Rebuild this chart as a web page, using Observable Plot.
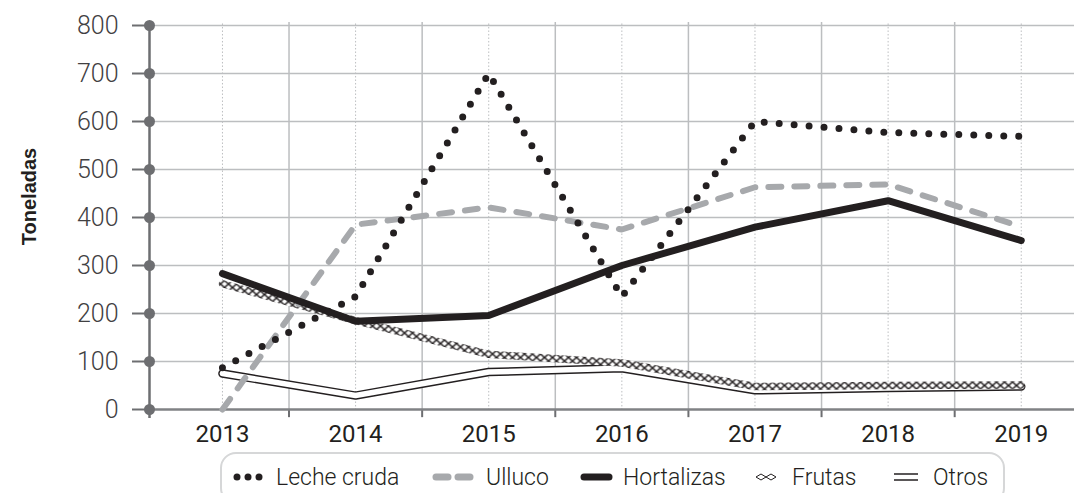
<!DOCTYPE html>
<html>
<head>
<meta charset="utf-8">
<script src="https://cdn.jsdelivr.net/npm/d3@7"></script>
<script src="https://cdn.jsdelivr.net/npm/@observablehq/plot@0.6"></script>
<style>
  html, body { margin: 0; padding: 0; background: #fff; }
  #wrap { position: relative; width: 1074px; height: 493px; overflow: hidden; }
  .lg { position: absolute; top: 452px; left: 220px; width: 785px; height: 52px;
        border: 2px solid #d6d7d8; border-radius: 16px; box-sizing: border-box; }
  .item { position: absolute; top: 461px; height: 32px; display: flex; align-items: center;
          font-family: Roboto, "DejaVu Sans Condensed", sans-serif; font-weight: 300;
          font-size: 23px; color: #231f20; white-space: nowrap; }
  .item svg { display: block; }
</style>
</head>
<body>
<div id="wrap"></div>
<script>
// ---- data ----
const years = [2013, 2014, 2015, 2016, 2017, 2018, 2019];
const yTicks = [0, 100, 200, 300, 400, 500, 600, 700, 800];
const seriesNames = ["Leche cruda", "Ulluco", "Hortalizas", "Frutas", "Otros"];
const lecheCruda = [87, 235, 700, 235, 600, 577, 569];
const ulluco     = [0, 385, 421, 375, 463, 469, 381];
const hortalizas = [283, 184, 196, 300, 380, 435, 352];
const frutas     = [262, 185, 115, 97, 48, 50, 51];
const otros      = [75, 29, 78, 86, 40, 45, 48];
const yLabel = "Toneladas";

// ---- helpers ----
const rows = vals => years.map((yr, i) => ({year: yr, value: vals[i]}));
const x0 = 2012.452;
const xMax = 2019.4;
const pxPerYear = (1074 - 149) / (xMax - x0);
const midYears = years.slice(0, -1).map(y => y + 0.5);
const numFont = "Roboto, 'DejaVu Sans Condensed', sans-serif";

const chart = Plot.plot({
  width: 1074,
  height: 452,
  marginLeft: 149,
  marginRight: 0,
  marginTop: 25,
  marginBottom: 43,
  x: {type: "linear", domain: [x0, xMax], axis: null},
  y: {type: "linear", domain: [0, 800], axis: null},
  style: {overflow: "visible", background: "white"},
  marks: [
    // grid
    Plot.ruleY(yTicks.slice(1), {x1: x0, x2: xMax, stroke: "#bcbec0", strokeWidth: 1.5}),
    Plot.ruleX(years, {y1: -2, y2: 806, stroke: "#bcbec0", strokeWidth: 1, strokeDasharray: "1.5,2"}),
    Plot.ruleX(midYears, {y1: 0, y2: 806, stroke: "#bcbec0", strokeWidth: 1.5}),
    Plot.ruleX(midYears, {y1: -17, y2: 0, stroke: "#6d6e71", strokeWidth: 2}),
    Plot.ruleY([0], {x1: x0, x2: xMax, stroke: "#808285", strokeWidth: 2.5}),
    // series
    Plot.line(rows(otros), {x: "year", y: "value", stroke: "#231f20", strokeWidth: 8.5, strokeLinejoin: "miter"}),
    Plot.line(rows(otros), {x: "year", y: "value", stroke: "white", strokeWidth: 5.6, strokeLinejoin: "miter"}),
    Plot.line(rows(frutas), {x: "year", y: "value", stroke: "#231f20", strokeWidth: 7.5, className: "frutas-line"}),
    Plot.line(rows(ulluco), {x: "year", y: "value", stroke: "#a7a9ac", strokeWidth: 6, strokeDasharray: "13,13", strokeLinecap: "round"}),
    Plot.line(rows(hortalizas), {x: "year", y: "value", stroke: "#231f20", strokeWidth: 7, strokeLinejoin: "miter"}),
    Plot.line(rows(lecheCruda), {x: "year", y: "value", stroke: "#231f20", strokeWidth: 7, strokeDasharray: "0,15", strokeLinecap: "round"}),
    // y axis
    Plot.ruleX([x0], {y1: -19, y2: 800, stroke: "#6d6e71", strokeWidth: 2.5}),
    Plot.ruleY(yTicks, {x1: x0 - 17 / pxPerYear, x2: x0, stroke: "#6d6e71", strokeWidth: 2}),
    Plot.dot(yTicks, {x: () => x0, y: d => d, r: 5.5, fill: "#6d6e71", stroke: null}),
    Plot.text(yTicks, {x: () => x0, y: d => d, text: d => String(d), dx: -31, textAnchor: "end", fill: "#414042",
      fontSize: 25, fontWeight: 300, fontFamily: numFont}),
    // x labels
    Plot.text(years, {x: d => d, y: () => 0, text: d => String(d), dy: 25, fill: "#231f20", fontSize: 24, fontWeight: 400, fontFamily: numFont}),
    // y title
    Plot.text([yLabel], {frameAnchor: "left", textAnchor: "middle", dx: -120, dy: -21, rotate: -90, fill: "#231f20",
      fontSize: 20, fontWeight: "bold", fontFamily: "'Liberation Sans', Arial, sans-serif"})
  ]
});

// pattern for Frutas (diamond chain)
const svgSel = d3.select(chart);
const defs = svgSel.insert("defs", ":first-child");
const pat = defs.append("pattern").attr("id", "frutasPat").attr("patternUnits", "userSpaceOnUse")
  .attr("width", 8).attr("height", 7);
pat.append("rect").attr("width", 8).attr("height", 7).attr("fill", "white");
pat.append("path").attr("d", "M0,0L8,7M0,7L8,0").attr("stroke", "#231f20").attr("stroke-width", 1.4).attr("fill", "none");
svgSel.selectAll(".frutas-line path").attr("stroke", "url(#frutasPat)");

const wrap = document.getElementById("wrap");
wrap.appendChild(chart);

// ---- legend ----
const lg = document.createElement("div");
lg.className = "lg";
wrap.appendChild(lg);
const legendLeft = [233, 432, 580, 755, 893];
const swatch = {
  "Leche cruda": `<svg width="32" height="12"><g fill="#231f20"><circle cx="4" cy="6" r="3.5"/><circle cx="15" cy="6" r="3.5"/><circle cx="26" cy="6" r="3.5"/></g></svg>`,
  "Ulluco": `<svg width="42" height="12"><g stroke="#a7a9ac" stroke-width="7" stroke-linecap="round"><line x1="4" y1="6" x2="16" y2="6"/><line x1="26" y1="6" x2="38" y2="6"/></g></svg>`,
  "Hortalizas": `<svg width="33" height="12"><line x1="4" y1="6" x2="29" y2="6" stroke="#231f20" stroke-width="7" stroke-linecap="round"/></svg>`,
  "Frutas": `<svg width="23" height="12"><g fill="none" stroke="#231f20" stroke-width="1"><path d="M1,6L6,3L11,6L6,9Z"/><path d="M11,6L16,3L21,6L16,9Z"/></g></svg>`,
  "Otros": `<svg width="26" height="12"><g stroke="#231f20" stroke-width="1.5"><line x1="1" y1="3" x2="25" y2="3"/><line x1="1" y1="9" x2="25" y2="9"/></g></svg>`
};
const gaps = [11, 12, 10, 14, 14];
seriesNames.forEach((name, i) => {
  const it = document.createElement("div");
  it.className = "item";
  it.style.left = legendLeft[i] + "px";
  it.innerHTML = swatch[name] + `<span style="margin-left:${gaps[i]}px">${name}</span>`;
  wrap.appendChild(it);
});
</script>
</body>
</html>
